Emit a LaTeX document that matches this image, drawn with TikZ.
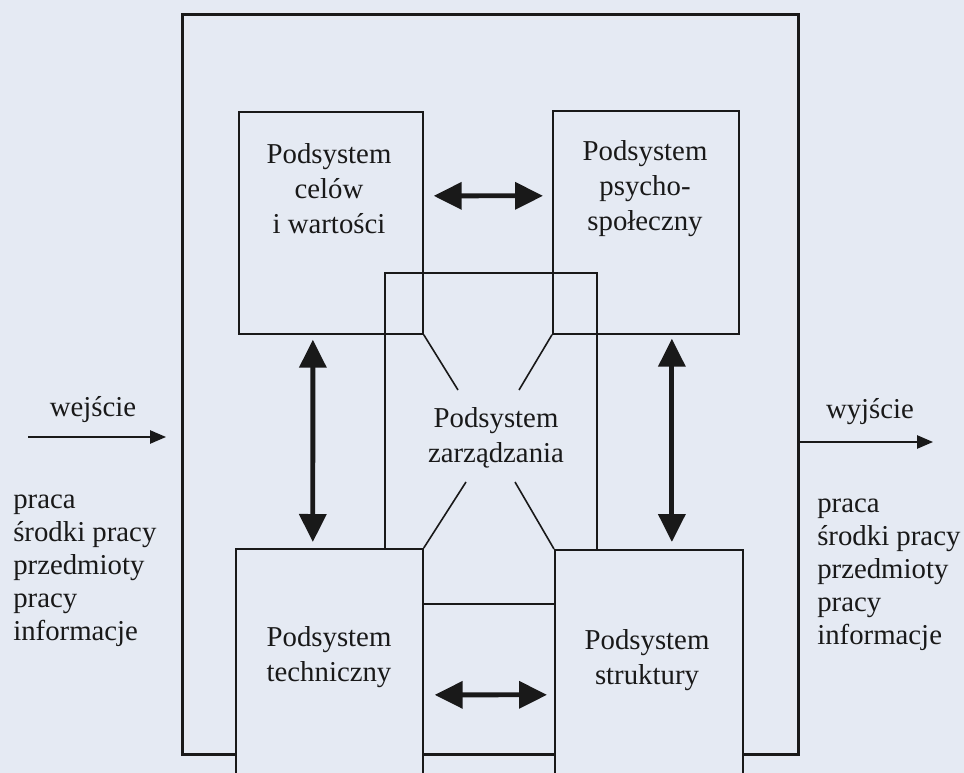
\documentclass[tikz,border=0pt]{standalone}
\usepackage{fontspec}
\setmainfont{Liberation Serif}
\usetikzlibrary{arrows.meta}
\definecolor{paper}{RGB}{229,234,243}
\definecolor{ink}{RGB}{25,25,25}
\tikzset{
  box/.style={draw=ink, line width=1.3pt, fill=paper, rectangle, anchor=north west, inner sep=0pt},
  outerbox/.style={draw=ink, line width=2.3pt, rectangle, anchor=north west, inner sep=0pt},
  label/.style={text=ink, align=center, inner sep=0pt, font=\fontsize{21.6}{26.25}\selectfont},
  listtext/.style={text=ink, align=left, inner sep=0pt, anchor=west, font=\fontsize{21.6}{24.75}\selectfont},
  bigarrow/.style={draw=ink, line width=3.6pt, {Triangle[length=21pt,width=20pt]}-{Triangle[length=21pt,width=20pt]}},
  thinarrow/.style={draw=ink, line width=1.1pt, -{Triangle[length=12pt,width=10pt]}},
  diag/.style={draw=ink, line width=1.2pt}
}
\begin{document}
\begin{tikzpicture}[x=0.75pt, y=-0.75pt]
\useasboundingbox (0,0) rectangle (964,773);
\fill[paper] (0,0) rectangle (964,773);
\clip (0,0) rectangle (964,773);
% outer system boundary
\node[outerbox, minimum width=462pt, minimum height=555pt] (outer) at (181,13) {};
% upper subsystems
\node[box, minimum width=138pt, minimum height=166.5pt] (cel) at (238,111) {};
\node[box, minimum width=139.5pt, minimum height=167.25pt] (psy) at (552,110) {};
% management subsystem (drawn over the upper boxes)
\node[box, fill=none, minimum width=159pt, minimum height=248.25pt] (zarz) at (384,272) {};
% diagonal lines
\coordinate (d1) at (458,390);
\coordinate (d2) at (519,390);
\coordinate (d3) at (466,482);
\coordinate (d4) at (515,482);
% lower subsystems (opaque)
\node[box, minimum width=140.25pt, minimum height=189pt] (tech) at (235,548) {};
\node[box, minimum width=141pt, minimum height=188.25pt] (str) at (554,549) {};
\draw[diag] (cel.south east) -- (d1);
\draw[diag] (psy.south west) -- (d2);
\draw[diag] (tech.north east) -- (d3);
\draw[diag] (str.north west) -- (d4);
% labels
\node[label] (celt) at (329,189) {Podsystem\\celów\\i wartości};
\node[label] (psyt) at (645,189) {Podsystem\\psycho-\\społeczny};
\node[label] (zarzt) at (496,438) {Podsystem\\zarządzania};
\node[label] (techt) at (329,657) {Podsystem\\techniczny};
\node[label] (strt) at (647,660) {Podsystem\\struktury};
% double arrows
\draw[bigarrow] ([xshift=7.5pt, yshift=20.25pt]cel.east) -- ([xshift=-6.75pt, yshift=19.9pt]psy.west);
\draw[bigarrow] ([xshift=8.25pt, yshift=-15pt]tech.east) -- ([xshift=-5.25pt, yshift=-14.6pt]str.west);
\draw[bigarrow] ([xshift=-13.5pt, yshift=-3.75pt]cel.south) -- ([xshift=-12.4pt, yshift=4.5pt]tech.north);
\draw[bigarrow] ([xshift=19.5pt, yshift=-3pt]psy.south) -- ([xshift=17.25pt, yshift=5.25pt]str.north);
% input / output
\coordinate (win) at (28,437);
\coordinate (wout) at (933,442);
\draw[thinarrow, shorten >=11.25pt] (win) -- (win -| outer.west);
\draw[thinarrow] (wout -| outer.east) -- (wout);
\node[label] (wej) at (93,410) {wejście};
\node[label] (wyj) at (870,412) {wyjście};
\node[listtext] (lin) at (13,571) {praca\\środki pracy\\przedmioty\\pracy\\informacje};
\node[listtext] (lout) at (817,575) {praca\\środki pracy\\przedmioty\\pracy\\informacje};
\end{tikzpicture}
\end{document}
